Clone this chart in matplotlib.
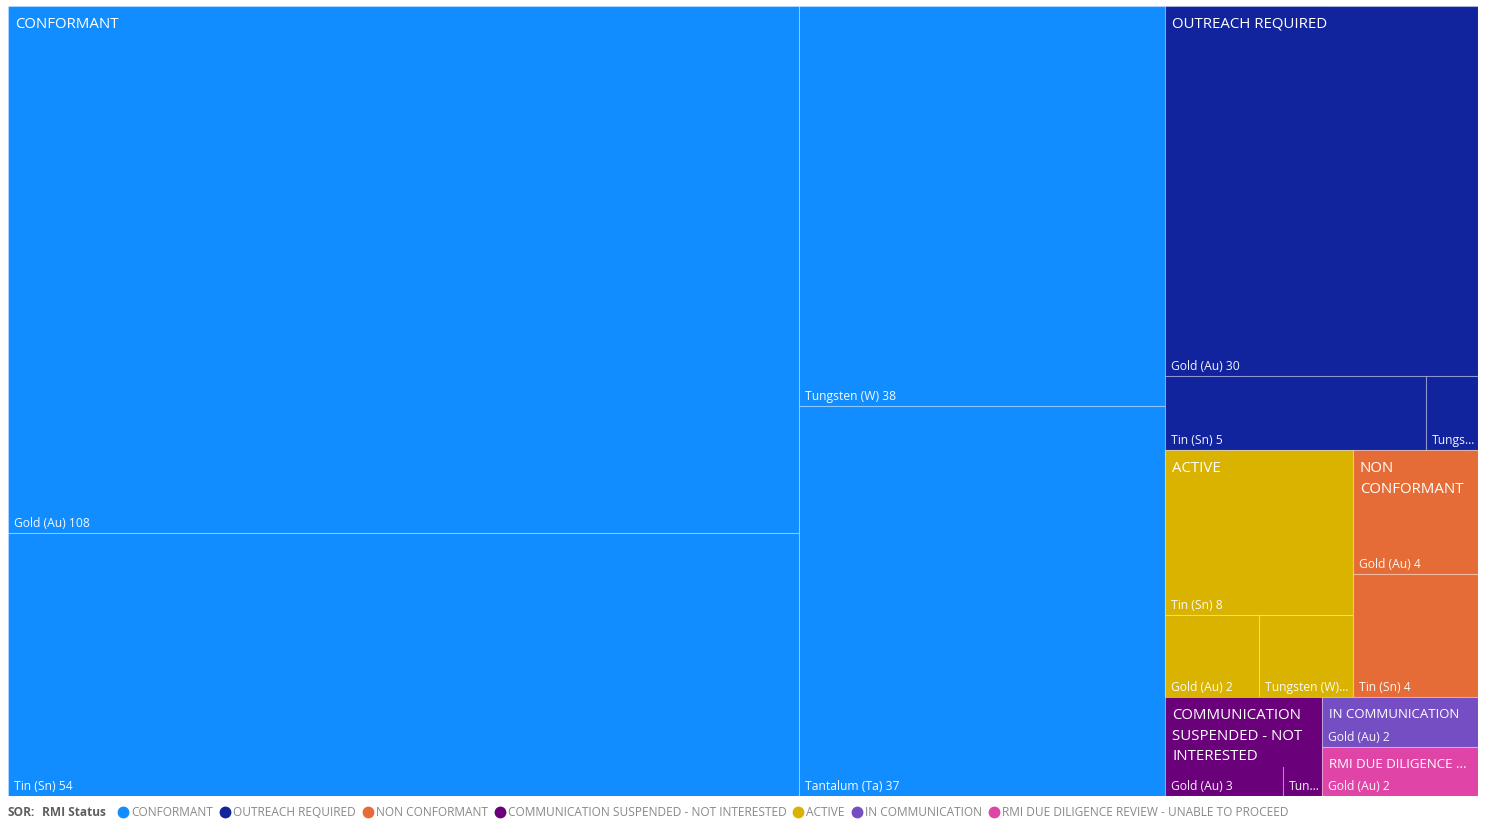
import matplotlib
matplotlib.use("Agg")
import matplotlib.pyplot as plt
from matplotlib.patches import Rectangle
from matplotlib.lines import Line2D
from matplotlib.font_manager import FontProperties

# ---- data -------------------------------------------------------------
statuses = ["CONFORMANT", "OUTREACH REQUIRED", "NON CONFORMANT",
            "COMMUNICATION SUSPENDED - NOT INTERESTED", "ACTIVE",
            "IN COMMUNICATION", "RMI DUE DILIGENCE REVIEW - UNABLE TO PROCEED"]
status_colors = ["#118DFF", "#12239E", "#E66C37", "#6B007B",
                 "#D9B300", "#744EC2", "#E044A7"]

conformant_metals = ["Gold (Au)", "Tin (Sn)", "Tungsten (W)", "Tantalum (Ta)"]
conformant_counts = [108, 54, 38, 37]
outreach_metals = ["Gold (Au)", "Tin (Sn)", "Tungsten (W)"]
outreach_counts = [30, 5, 1]
non_conformant_metals = ["Gold (Au)", "Tin (Sn)"]
non_conformant_counts = [4, 4]
suspended_metals = ["Gold (Au)", "Tungsten (W)"]
suspended_counts = [3, 1]
active_metals = ["Tin (Sn)", "Gold (Au)", "Tungsten (W)"]
active_counts = [8, 2, 2]
in_comm_metals = ["Gold (Au)"]
in_comm_counts = [2]
rmi_metals = ["Gold (Au)"]
rmi_counts = [2]

metals = [conformant_metals, outreach_metals, non_conformant_metals,
          suspended_metals, active_metals, in_comm_metals, rmi_metals]
counts = [conformant_counts, outreach_counts, non_conformant_counts,
          suspended_counts, active_counts, in_comm_counts, rmi_counts]

FONT = "Open Sans"
W_PX, H_PX = 1488, 823
PLOT = (8, 6, 1478, 796)   # left, top, right, bottom in pixels

PHI = (1 + 5 ** 0.5) / 2


def squarify(values, x0, y0, x1, y1, ratio=PHI):
    """Squarified layout (d3 style). values must be sorted descending."""
    rects = []
    n = len(values)
    value = float(sum(values))
    i0 = 0
    while i0 < n:
        dx, dy = x1 - x0, y1 - y0
        i1 = i0 + 1
        sum_v = values[i0]
        min_v = max_v = sum_v
        alpha = max(dy / dx, dx / dy) / (value * ratio)
        beta = sum_v * sum_v * alpha
        min_ratio = max(max_v / beta, beta / min_v)
        while i1 < n:
            v = values[i1]
            s = sum_v + v
            mn, mx = min(min_v, v), max(max_v, v)
            beta = s * s * alpha
            new_ratio = max(mx / beta, beta / mn)
            if new_ratio > min_ratio:
                break
            min_ratio, sum_v, min_v, max_v = new_ratio, s, mn, mx
            i1 += 1
        row = values[i0:i1]
        if dx < dy:
            # row laid across the top
            h = dy * sum_v / value
            xx = x0
            for v in row:
                w = dx * v / sum_v
                rects.append((xx, y0, xx + w, y0 + h))
                xx += w
            y0 += h
        else:
            # column laid down the left
            w = dx * sum_v / value
            yy = y0
            for v in row:
                h = dy * v / sum_v
                rects.append((x0, yy, x0 + w, yy + h))
                yy += h
            x0 += w
        value -= sum_v
        i0 = i1
    return rects


fig = plt.figure(figsize=(W_PX / 100, H_PX / 100), dpi=100)
ax = fig.add_axes([PLOT[0] / W_PX, 1 - PLOT[3] / H_PX,
                   (PLOT[2] - PLOT[0]) / W_PX, (PLOT[3] - PLOT[1]) / H_PX])
pw, ph = PLOT[2] - PLOT[0], PLOT[3] - PLOT[1]
ax.set_xlim(0, pw)
ax.set_ylim(ph, 0)
ax.axis("off")

renderer = fig.canvas.get_renderer()
HEAD_SIZE = 10.8
leaf_prop = FontProperties(family=FONT, size=8.7)


def text_w(s, prop):
    w, h, d = renderer.get_text_width_height_descent(s, prop, ismath=False)
    return w


def fit(s, prop, maxw, spill=0, strip=False):
    # the ellipsis may run a little into the right padding
    if text_w(s, prop) <= maxw:
        return s
    for k in range(len(s) - 1, 0, -1):
        head = s[:k].rstrip() if strip else s[:k]
        if text_w(head + "...", prop) <= maxw + spill:
            return head + "..."
    return "..."


def wrap(s, prop, maxw, max_lines):
    words = s.split()
    lines, cur = [], ""
    for wd in words:
        trial = (cur + " " + wd).strip()
        if cur and text_w(trial, prop) > maxw:
            lines.append(cur)
            cur = wd
        else:
            cur = trial
    lines.append(cur)
    if len(lines) > max_lines:
        rest = " ".join(lines[max_lines - 1:])
        lines = lines[:max_lines - 1] + [fit(rest, prop, maxw)]
    return "\n".join(fit(l, prop, maxw) for l in lines)


# order groups by total (descending) for the layout
totals = [sum(c) for c in counts]
order = sorted(range(len(statuses)), key=lambda i: -totals[i])
group_rects = squarify([totals[i] for i in order], 0, 0, pw, ph)

PAD = 7
LINE_H = 21
for gi, (gx0, gy0, gx1, gy1) in zip(order, group_rects):
    color = status_colors[gi]
    vals = counts[gi]
    idx = sorted(range(len(vals)), key=lambda j: -vals[j])
    leaf_rects = squarify([vals[j] for j in idx], gx0, gy0, gx1, gy1)
    for j, (x0, y0, x1, y1) in zip(idx, leaf_rects):
        ax.add_patch(Rectangle((x0, y0), x1 - x0, y1 - y0, facecolor=color,
                               edgecolor=(1, 1, 1, 0.3), linewidth=0.8))
        label = fit(f"{metals[gi][j]} {vals[j]}", leaf_prop, x1 - x0 - 12,
                    spill=4, strip=True)
        ax.text(x0 + 6, y1 - 6, label, color="white", fontproperties=leaf_prop,
                va="baseline", ha="left", alpha=0.95)
    # group header; short groups get a slightly smaller single line
    max_lines = max(1, int((gy1 - gy0 - 32) // LINE_H))
    size = HEAD_SIZE if max_lines > 1 else HEAD_SIZE * 0.88
    head_prop = FontProperties(family=FONT, size=size)
    head = wrap(statuses[gi], head_prop, gx1 - gx0 - 2 * PAD, max_lines)
    t = ax.text(gx0 + PAD, gy0 + 11, head, color="white", fontproperties=head_prop,
                va="top", ha="left", linespacing=1.5, zorder=5)
    # header band hides the leaf divider lines behind the title
    bb = t.get_window_extent(renderer).transformed(ax.transData.inverted())
    ax.add_patch(Rectangle((bb.x0 - 2, gy0 + 1), bb.x1 - bb.x0 + 4,
                           max(bb.y0, bb.y1) + 3 - gy0 - 1, facecolor=color,
                           edgecolor="none", zorder=4))

# ---- legend ------------------------------------------------------------
leg_prop = FontProperties(family=FONT, size=8.55)
leg_bold = FontProperties(family=FONT, size=8.55, weight="bold")
ly = 1 - 812 / H_PX
x = 8
fig.text(x / W_PX, ly, "SOR:", fontproperties=leg_bold, color="#605E5C", va="center")
x += text_w("SOR:", leg_bold) + 7
fig.text(x / W_PX, ly, "RMI Status", fontproperties=leg_bold, color="#605E5C", va="center")
x += text_w("RMI Status", leg_bold) + 17
for name, color in zip(statuses, status_colors):
    fig.add_artist(Line2D([x / W_PX], [ly], marker="o", markersize=7.5,
                          color=color, transform=fig.transFigure))
    x += 8
    fig.text(x / W_PX, ly, name, fontproperties=leg_prop, color="#8A8886", va="center")
    x += text_w(name, leg_prop) + 12

fig.savefig("out.png", dpi=100, facecolor="white")
